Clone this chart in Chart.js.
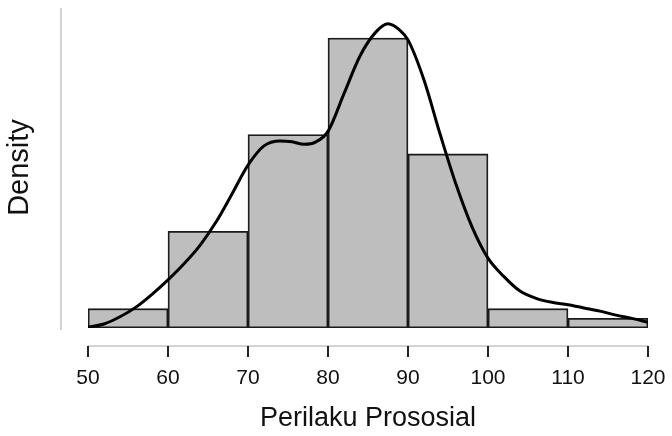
<!DOCTYPE html>
<html>
<head>
<meta charset="utf-8">
<script src="https://cdn.jsdelivr.net/npm/chart.js@4/dist/chart.umd.min.js"></script>
<style>
  html, body { margin:0; padding:0; background:#fff; }
  #wrap { width:672px; height:436px; }
</style>
</head>
<body>
<div id="wrap"><canvas id="histChart" width="672" height="436"></canvas></div>
<script>
// histogram bins (centres) and densities
const binCentres = [55, 65, 75, 85, 95, 105, 115];
const binDensity = [0.00241, 0.01205, 0.0241, 0.03614, 0.02169, 0.00241, 0.0012];

// kernel density curve
const curveX = [50, 52, 54, 56, 58, 60, 62, 64, 66, 68, 70, 72, 74, 75.5, 77, 78.5, 80, 82, 84, 86, 87.5, 89, 90, 92, 94, 96, 98, 100, 102, 104, 106, 108, 110, 112, 114, 116, 118, 120];
const curveY = [0.0001, 0.0005, 0.0014, 0.0026, 0.0042, 0.0060, 0.0080, 0.0103, 0.0132, 0.0167, 0.0203, 0.0227, 0.0233, 0.0232, 0.0229, 0.0232, 0.0245, 0.0292, 0.0339, 0.0369, 0.0379, 0.0371, 0.0359, 0.0309, 0.0242, 0.0179, 0.0126, 0.0087, 0.0064, 0.0046, 0.0037, 0.0032, 0.0029, 0.0025, 0.0021, 0.0016, 0.0012, 0.0007];

const xTicks = [50, 60, 70, 80, 90, 100, 110, 120];

const FONT = "'Liberation Sans', Arial, Helvetica, sans-serif";

// detached axes like the R/JASP style
const axisPlugin = {
  id: 'detachedAxes',
  afterDraw(chart){
    const {ctx, chartArea, scales} = chart;
    const x = scales.x;
    ctx.save();
    // y axis line
    ctx.strokeStyle = '#c4c4c4';
    ctx.lineWidth = 1.5;
    ctx.beginPath();
    ctx.moveTo(chartArea.left - 27, chartArea.top + 1);
    ctx.lineTo(chartArea.left - 27, chartArea.bottom + 2);
    ctx.stroke();
    // x axis line
    const ay = chartArea.bottom + 18;
    ctx.beginPath();
    ctx.moveTo(x.getPixelForValue(xTicks[0]), ay);
    ctx.lineTo(x.getPixelForValue(xTicks[xTicks.length-1]), ay);
    ctx.stroke();
    // tick marks
    ctx.strokeStyle = '#222';
    ctx.lineWidth = 2;
    xTicks.forEach(t=>{
      const px = Math.round(x.getPixelForValue(t));
      ctx.beginPath();
      ctx.moveTo(px, ay);
      ctx.lineTo(px, ay + 11);
      ctx.stroke();
    });
    ctx.restore();
  }
};

function main(){
  const ctx = document.getElementById('histChart').getContext('2d');
  new Chart(ctx, {
    type:'bar',
    data:{
      datasets:[
        {
          type:'line',
          data: curveX.map((v,i)=>({x:v, y:curveY[i]})),
          borderColor:'#000',
          borderWidth:3,
          pointRadius:0,
          cubicInterpolationMode:'monotone',
          fill:false,
          order:0
        },
        {
          type:'bar',
          data: binCentres.map((v,i)=>({x:v, y:binDensity[i]})),
          backgroundColor:'#bebebe',
          borderColor:'#1a1a1a',
          borderWidth:1.8,
          borderSkipped:false,
          barPercentage:1,
          categoryPercentage:1,
          order:1
        }
      ]
    },
    options:{
      responsive:false,
      animation:false,
      layout:{ padding:{ left:0, top:7, right:24, bottom:0 } },
      plugins:{ legend:{ display:false }, tooltip:{ enabled:false } },
      scales:{
        x:{
          type:'linear',
          min:50, max:120,
          offset:false,
          grid:{ display:false, drawTicks:false },
          border:{ display:false },
          afterBuildTicks(scale){ scale.ticks = xTicks.map(v=>({value:v})); },
          afterFit(scale){ scale.height = 108; scale.paddingLeft = 0; scale.paddingRight = 0; },
          ticks:{ color:'#111', padding:38, maxRotation:0, font:{ family:FONT, size:21 } },
          title:{ display:true, text:'Perilaku Prososial', color:'#111', padding:{ top:0, bottom:1 }, font:{ family:FONT, size:27 } }
        },
        y:{
          min:0, max:0.04,
          grid:{ display:false, drawTicks:false },
          border:{ display:false },
          ticks:{ display:false },
          afterFit(scale){ scale.width = 88; },
          title:{ display:true, text:'Density', color:'#111', padding:{ top:3, bottom:0 }, font:{ family:FONT, size:29 } }
        }
      }
    },
    plugins:[axisPlugin]
  });
}
document.addEventListener('DOMContentLoaded', main);
</script>
</body>
</html>
